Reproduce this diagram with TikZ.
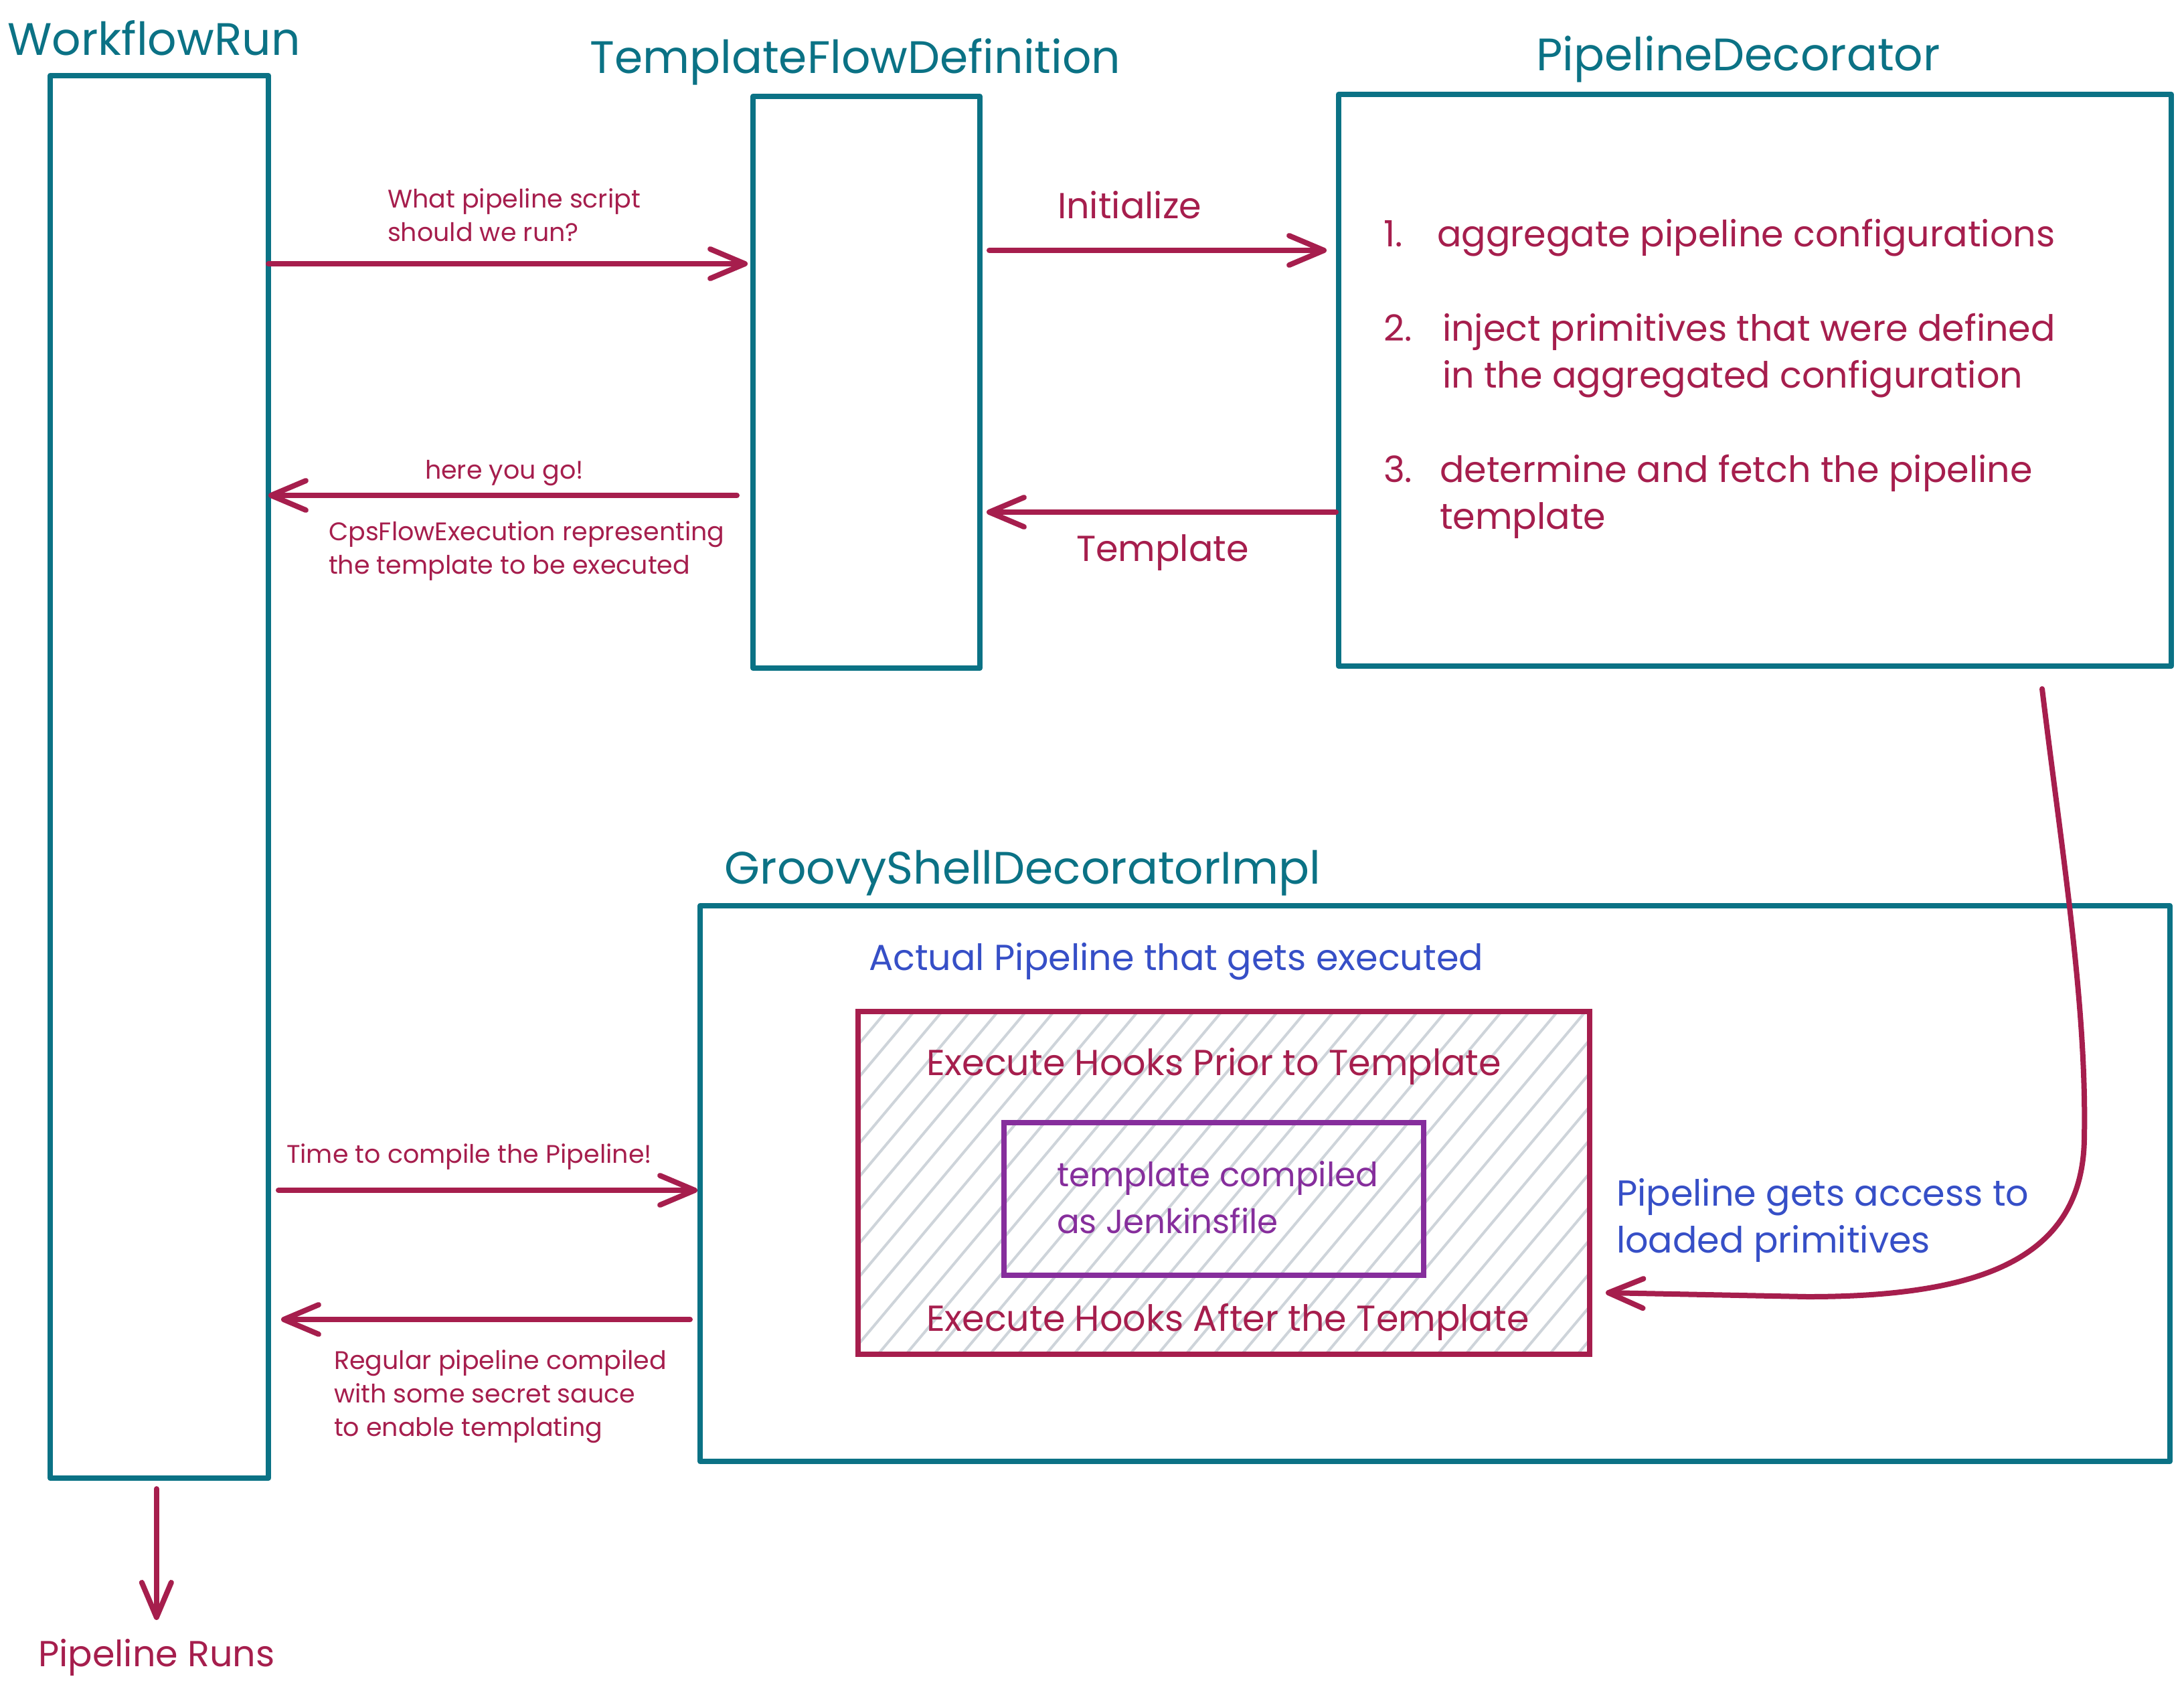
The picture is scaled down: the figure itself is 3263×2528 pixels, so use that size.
\documentclass[tikz,border=0pt]{standalone}
\usepackage{fontspec}
\setmainfont{Poppins}
\usetikzlibrary{arrows.meta,calc}
\definecolor{exteal}{HTML}{0B7285}
\definecolor{excrim}{HTML}{A61E4D}
\definecolor{expurp}{HTML}{862E9C}
\definecolor{exblue}{HTML}{364FC7}
\definecolor{exhatch}{HTML}{CED4DA}
\newcommand\mltext[1]{\begin{tabular}[t]{@{}l@{}}#1\end{tabular}}
\tikzset{
  every node/.style={inner sep=0pt, outer sep=0pt},
  lane/.style={draw=exteal, line width=2pt, rectangle, line join=round},
  arr/.style={draw=excrim, line width=2pt, line cap=round, -{Straight Barb[length=13pt,width=11pt,round]}},
  title/.style={text=exteal, font=\fontsize{17}{21}\selectfont, anchor=base},
  small/.style={text=excrim, font=\fontsize{9.5}{12.6}\selectfont, anchor=base west},
  med/.style={text=excrim, font=\fontsize{13.5}{17.5}\selectfont, anchor=base west},
  hatchline/.style={draw=exhatch, line width=1pt},
}
\begin{document}
\begin{tikzpicture}[x=0.25pt,y=-0.25pt]
\useasboundingbox[fill=white] (0,0) rectangle (3263,2528);

% boxes
\node[lane, minimum width=81.5pt, minimum height=523.75pt] (wr) at (238,1160.5) {};
\node[lane, minimum width=84.75pt, minimum height=213.5pt] (tfd) at (1294.5,571) {};
\node[lane, minimum width=311pt, minimum height=213.5pt] (pd) at (2622,568) {};
\node[lane, minimum width=549pt, minimum height=207.5pt] (gs) at (2144,1768) {};
\node[draw=excrim, line width=2pt, minimum width=273.25pt, minimum height=128pt,
  path picture={
    \foreach \i in {0,...,38}
      \draw[hatchline] ($(path picture bounding box.south west)+({-430+\i*41.8},0)$) -- ++(430,-512);
  }] (hk) at (1828.5,1767) {};
\node[draw=expurp, line width=2pt, minimum width=156.75pt, minimum height=57pt] (tc) at (1813.5,1791) {};

% titles
\node[title] (tWR) at (230,82) {WorkflowRun};
\node[title] (tTFD) at (1278,109) {TemplateFlowDefinition};
\node[title] (tPD) at (2597,105) {PipelineDecorator};
\node[title] (tGS) at (1528,1320) {GroovyShellDecoratorImpl};

% labels
\node[small] (q1) at (579,310) {\mltext{What pipeline script\\should we run?}};
\node[small] (a1) at (635,715) {here you go!};
\node[small] (a1b) at (491,807) {\mltext{CpsFlowExecution representing\\the template to be executed}};
\node[small] (t5) at (428,1737) {Time to compile the Pipeline!};
\node[small] (r6) at (499,2045) {\mltext{Regular pipeline compiled\\with some secret sauce\\to enable templating}};
\node[med] (init) at (1580,326) {Initialize};
\node[med] (tmpl) at (1608,838) {Template};
\node[med] (n1) at (2067,368) {1.};
\node[med] (l1) at (2147,368) {aggregate pipeline configurations};
\node[med] (n2) at (2067,509) {2.};
\node[med] (l2) at (2155,509) {\mltext{inject primitives that were defined\\in the aggregated configuration}};
\node[med] (n3) at (2067,720) {3.};
\node[med] (l3) at (2151,720) {\mltext{determine and fetch the pipeline\\template}};
\node[med, text=exblue] (act) at (1298,1449) {Actual Pipeline that gets executed};
\node[med] (pre) at (1384,1606) {Execute Hooks Prior to Template};
\node[med, text=expurp, font=\fontsize{12.5}{17.5}\selectfont] (tct) at (1579,1772) {\mltext{template compiled\\as Jenkinsfile}};
\node[med] (aft) at (1384,1988) {Execute Hooks After the Template};
\node[med, text=exblue] (acc) at (2415,1801) {\mltext{Pipeline gets access to\\loaded primitives}};
\node[med] (pr) at (57,2489) {Pipeline Runs};

% connectors
\coordinate (y1) at (0,394);
\coordinate (y2) at (0,740);
\coordinate (y3) at (0,374);
\coordinate (y4) at (0,765);
\coordinate (y5) at (0,1778);
\coordinate (y6) at (0,1971);
\draw[arr, shorten >=2pt] (wr.east |- y1) -- (tfd.west |- y1);
\draw[arr, shorten <=6pt] (tfd.west |- y2) -- (wr.east |- y2);
\draw[arr, shorten <=3.5pt, shorten >=4.5pt] (tfd.east |- y3) -- (pd.west |- y3);
\draw[arr, shorten <=1pt, shorten >=2.5pt] (pd.west |- y4) -- (tfd.east |- y4);
\draw[arr, shorten <=3.75pt, shorten >=1pt] (wr.east |- y5) -- (gs.west |- y5);
\draw[arr, shorten <=3.75pt, shorten >=4.75pt] (gs.west |- y6) -- (wr.east |- y6);
\draw[arr, shorten <=4pt, shorten >=7pt] (wr.south -| pr.north) -- (pr.north);
\coordinate (cs) at ([xshift=107.25pt,yshift=-8.5pt]pd.south);
\draw[arr] (cs) .. controls (3080,1270) and (3118,1500) .. (3114,1700)
  .. controls (3112,1880) and (2960,1937) .. (2700,1937)
  -- ([xshift=6pt,yshift=-41pt]hk.east);
\end{tikzpicture}
\end{document}
